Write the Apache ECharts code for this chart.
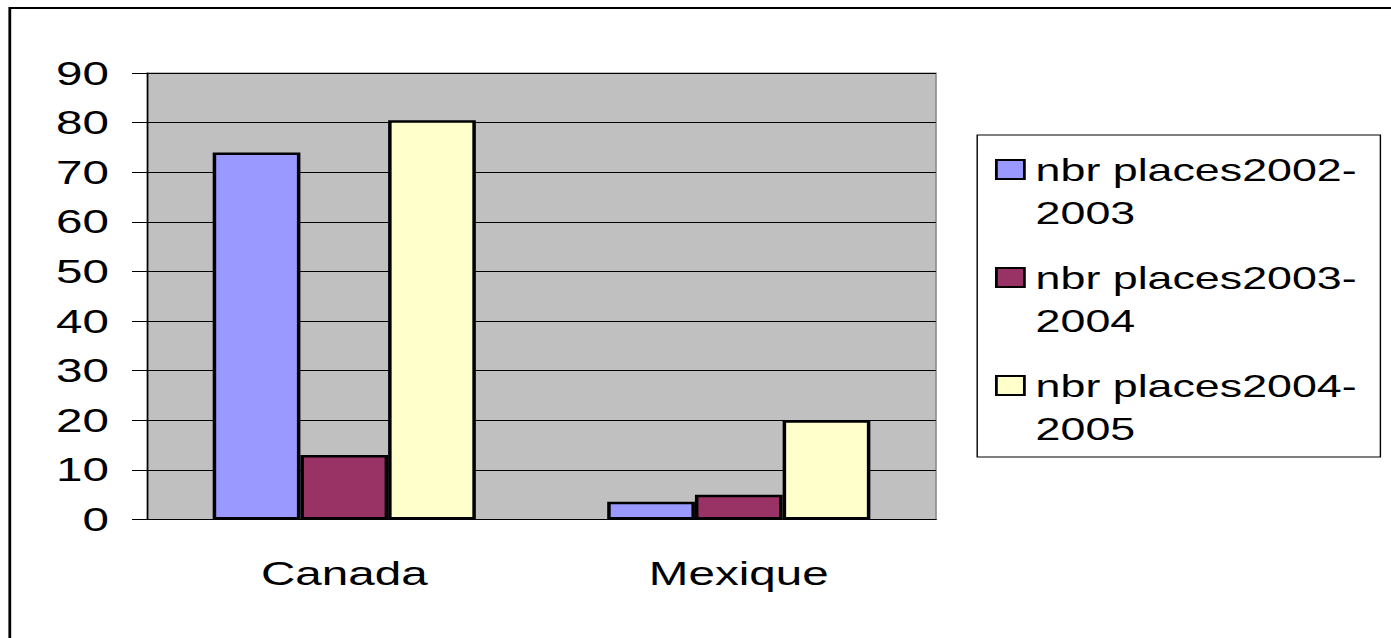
<!DOCTYPE html>
<html lang="fr">
<head>
    <meta charset="UTF-8">
    <title>nbr places</title>
    <script src="https://cdn.jsdelivr.net/npm/echarts@6/dist/echarts.min.js"></script>
    <style>
        html, body { margin: 0; padding: 0; background: #fff; overflow: hidden; }
        /* the original picture is stretched sideways, so the chart is drawn narrow and widened */
        #mybox { width: 994px; height: 638px; transform: scaleX(1.4); transform-origin: 0 0; }
    </style>
</head>
<body>
<div id="mybox"></div>
<script>
    // données
    var pays = ['Canada', 'Mexique'];
    var places2002 = [74, 3.6];
    var places2003 = [13, 5];
    var places2004 = [80.5, 20];
    var graduations = [0, 10, 20, 30, 40, 50, 60, 70, 80, 90];

    var police = 'Liberation Sans, Arial, sans-serif';

    function serie(nom, valeurs, couleur) {
        return {
            name: nom,
            type: 'bar',
            data: valeurs,
            barGap: '0%',
            barCategoryGap: '33.3%',
            itemStyle: { color: couleur, borderColor: '#000', borderWidth: 2.5 }
        };
    }

    var mychart = echarts.init(document.getElementById('mybox'), null, { renderer: 'svg' });
    mychart.setOption({
        animation: false,
        backgroundColor: '#fff',
        graphic: [
            { type: 'rect', shape: { x: 7, y: 8, width: 1100, height: 700 }, style: { fill: 'none', stroke: '#000', lineWidth: 2 } },
            { type: 'rect', shape: { x: 698, y: 135, width: 288, height: 322 }, style: { fill: 'none', stroke: '#000', lineWidth: 1 } }
        ],
        grid: {
            left: 105, right: 325.4, top: 73, bottom: 118.5,
            show: true, backgroundColor: '#c0c0c0', borderColor: '#808080', borderWidth: 1
        },
        legend: {
            orient: 'vertical',
            left: 710.7, top: 105,
            padding: 0,
            icon: 'rect',
            itemWidth: 20, itemHeight: 19, itemGap: -21,
            itemStyle: { borderWidth: 2 },
            // empty first line so the first text line sits level with the square
            formatter: function (name) { return '\n' + name.replace('-', '-\n'); },
            textStyle: { fontFamily: police, fontSize: 32, lineHeight: 43, color: '#000', padding: [0, 0, 0, 3] },
            data: ['nbr places2002-2003', 'nbr places2003-2004', 'nbr places2004-2005']
        },
        xAxis: {
            type: 'category',
            data: pays,
            axisLine: { lineStyle: { color: '#000', width: 1 } },
            axisTick: { length: 13, lineStyle: { color: '#000' } },
            axisLabel: { fontFamily: police, fontSize: 34, color: '#000', margin: 37 }
        },
        yAxis: {
            type: 'value',
            min: graduations[0],
            max: graduations[graduations.length - 1],
            interval: 10,
            axisLine: { show: true, lineStyle: { color: '#000', width: 1 } },
            axisTick: { show: true, length: 10.7, lineStyle: { color: '#000' } },
            axisLabel: { fontFamily: police, fontSize: 34, color: '#000', margin: 27.2 },
            splitLine: { lineStyle: { color: '#000', width: 1 } }
        },
        series: [
            serie('nbr places2002-2003', places2002, '#9999ff'),
            serie('nbr places2003-2004', places2003, '#993366'),
            serie('nbr places2004-2005', places2004, '#ffffcc')
        ]
    });
</script>
</body>
</html>
